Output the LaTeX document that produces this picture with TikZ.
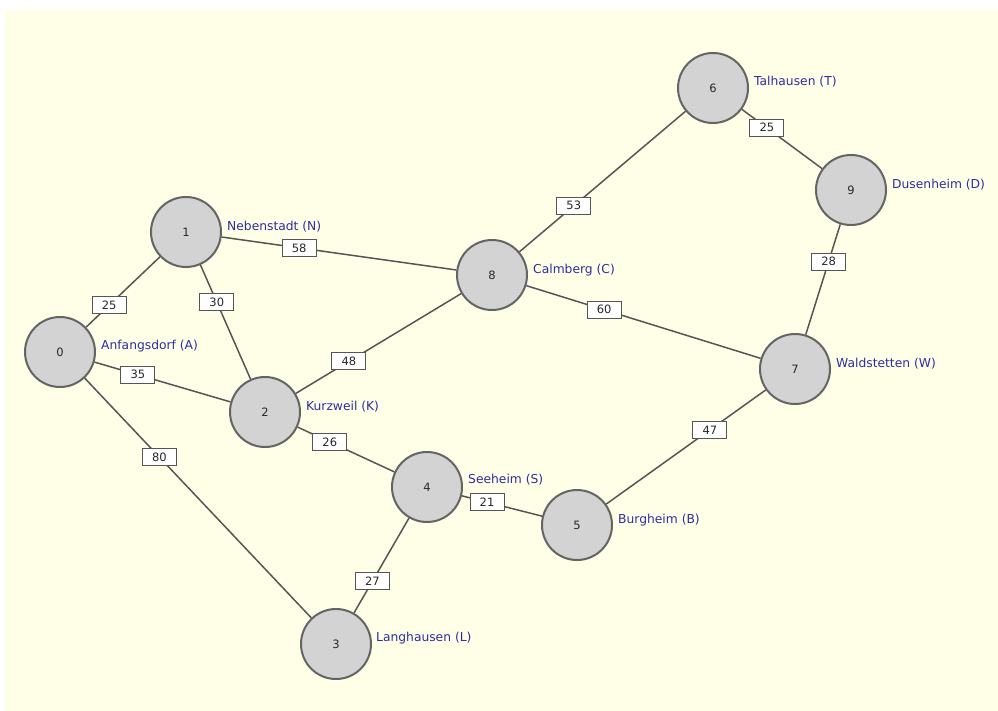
\documentclass[tikz,border=0pt]{standalone}
\usepackage{fontspec}
\setmainfont{DejaVu Sans}
\usetikzlibrary{calc}
\definecolor{bgyellow}{RGB}{255,255,232}
\definecolor{nodegray}{RGB}{211,211,211}
\definecolor{rimgray}{RGB}{100,100,100}
\definecolor{edgegray}{RGB}{85,85,85}
\definecolor{labblue}{RGB}{45,45,160}
\definecolor{numgray}{RGB}{40,40,40}
\tikzset{
  town/.style={circle, fill=nodegray, draw=rimgray, line width=2pt, minimum size=70pt, inner sep=0pt, text=numgray, font=\fontsize{11.5}{13}\selectfont},
  townlab/.style={anchor=west, inner sep=0pt, text=labblue, font=\fontsize{12.3}{14}\selectfont},
  road/.style={draw=edgegray, line width=1.5pt},
  weight/.style={fill=white, draw=edgegray, line width=1pt, minimum width=34pt, minimum height=17pt, inner sep=0pt, text=numgray, font=\fontsize{11.5}{13}\selectfont}
}
\begin{document}
\begin{tikzpicture}[x=1pt,y=-1pt]
\useasboundingbox (0,0) rectangle (998,711);
\fill[bgyellow] (5,10) rectangle (998,711);
% towns
\node[town] (n0) at (60,352) {0};
\node[town] (n1) at (186,232) {1};
\node[town] (n2) at (265,412) {2};
\node[town] (n3) at (336,644) {3};
\node[town] (n4) at (427,487) {4};
\node[town] (n5) at (577,525) {5};
\node[town] (n6) at (713,88) {6};
\node[town] (n7) at (795,369) {7};
\node[town] (n8) at (492,275) {8};
\node[town] (n9) at (851,190) {9};
% town labels
\node[townlab] (l0) at ([xshift=5pt,yshift=6pt]n0.east) {Anfangsdorf (A)};
\node[townlab] (l1) at ([xshift=5pt,yshift=5pt]n1.east) {Nebenstadt (N)};
\node[townlab] (l2) at ([xshift=5pt,yshift=5pt]n2.east) {Kurzweil (K)};
\node[townlab] (l3) at ([xshift=4pt,yshift=6pt]n3.east) {Langhausen (L)};
\node[townlab] (l4) at ([xshift=5pt,yshift=7pt]n4.east) {Seeheim (S)};
\node[townlab] (l5) at ([xshift=5pt,yshift=5pt]n5.east) {Burgheim (B)};
\node[townlab] (l6) at ([xshift=5pt,yshift=6pt]n6.east) {Talhausen (T)};
\node[townlab] (l7) at ([xshift=5pt,yshift=5pt]n7.east) {Waldstetten (W)};
\node[townlab] (l8) at ([xshift=5pt,yshift=5pt]n8.east) {Calmberg (C)};
\node[townlab] (l9) at ([xshift=5pt,yshift=5pt]n9.east) {Dusenheim (D)};
% roads
\draw[road] (n0) -- (n1);
\draw[road] (n1) -- (n2);
\draw[road] (n1) -- (n8);
\draw[road] (n0) -- (n2);
\draw[road] (n0) -- (n3);
\draw[road] (n2) -- (n8);
\draw[road] (n2) -- (n4);
\draw[road] (n3) -- (n4);
\draw[road] (n4) -- (n5);
\draw[road] (n8) -- (n6);
\draw[road] (n8) -- (n7);
\draw[road] (n6) -- (n9);
\draw[road] (n9) -- (n7);
\draw[road] (n7) -- (n5);
% weights
\node[weight] (w01) at ($(n0)!0.39!(n1)$) {25};
\node[weight] (w12) at ($(n1)!0.39!(n2)$) {30};
\node[weight] (w18) at ($(n1)!0.37!(n8)$) {58};
\node[weight] (w02) at ($(n0)!0.38!(n2)$) {35};
\node[weight] (w03) at ($(n0)!0.36!(n3)$) {80};
\node[weight] (w28) at ($(n2)!0.37!(n8)$) {48};
\node[weight] (w24) at ($(n2)!0.40!(n4)$) {26};
\node[weight] (w34) at ($(n3)!0.40!(n4)$) {27};
\node[weight] (w45) at ($(n4)!0.40!(n5)$) {21};
\node[weight] (w86) at ($(n8)!0.37!(n6)$) {53};
\node[weight] (w87) at ($(n8)!0.37!(n7)$) {60};
\node[weight] (w69) at ($(n6)!0.39!(n9)$) {25};
\node[weight] (w97) at ($(n9)!0.40!(n7)$) {28};
\node[weight] (w75) at ($(n7)!0.39!(n5)$) {47};
\end{tikzpicture}
\end{document}
